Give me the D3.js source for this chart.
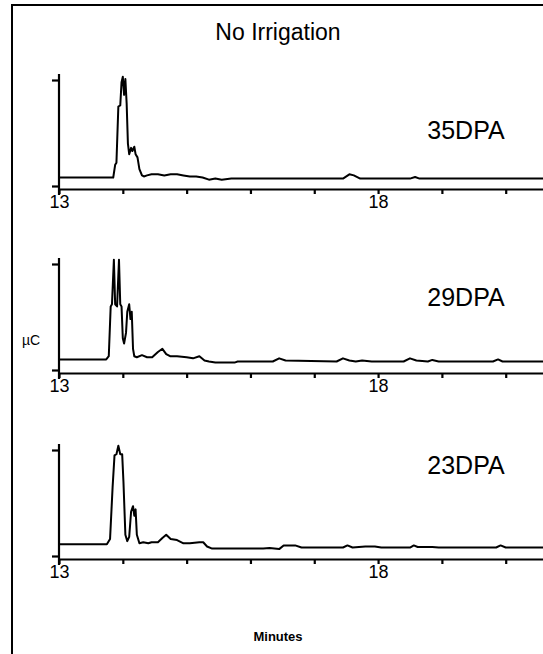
<!DOCTYPE html>
<html lang="en">
<head>
<meta charset="UTF-8" />
<title>No Irrigation chromatograms</title>
<script src="https://d3js.org/d3.v7.min.js"></script>
<style>
    body { margin: 0; background: #fff; font-family: "Liberation Sans", Arial, sans-serif; }
    svg { display: block; }
    .trace { fill: none; stroke: #000; stroke-width: 2; stroke-linejoin: round; }
    .axis path, .axis line { stroke: #000; stroke-width: 2.2; }
    .axis text { font-family: "Liberation Sans", Arial, sans-serif; fill: #000; }
</style>
</head>
<body>
<svg id="chart" width="543" height="654"></svg>
<script>
    // retention time (min) and relative detector response (0 = lower tick, 1 = upper tick)
    const t35 = [13, 13.85, 13.88, 13.9, 13.93, 13.96, 13.98, 14.0, 14.02, 14.04, 14.06, 14.08, 14.1, 14.13, 14.15, 14.18, 14.2, 14.23, 14.26, 14.3, 14.33, 14.38, 14.45, 14.55, 14.65, 14.75, 14.85, 14.95, 15.05, 15.15, 15.25, 15.35, 15.45, 15.55, 15.7, 16.0, 16.5, 17.0, 17.45, 17.55, 17.62, 17.72, 18.0, 18.5, 18.58, 18.65, 19.0, 19.5, 20.0, 20.6];
    const v35 = [0.08, 0.08, 0.2, 0.22, 0.75, 0.76, 0.98, 1.03, 0.86, 1.01, 0.78, 0.4, 0.3, 0.36, 0.33, 0.37, 0.3, 0.27, 0.16, 0.1, 0.09, 0.1, 0.11, 0.11, 0.1, 0.11, 0.11, 0.1, 0.09, 0.09, 0.08, 0.06, 0.07, 0.06, 0.07, 0.07, 0.07, 0.07, 0.07, 0.11, 0.1, 0.07, 0.07, 0.07, 0.085, 0.07, 0.07, 0.07, 0.07, 0.07];

    const t29 = [13, 13.74, 13.78, 13.81, 13.83, 13.86, 13.88, 13.91, 13.94, 13.96, 13.98, 14.0, 14.02, 14.05, 14.07, 14.1, 14.12, 14.14, 14.16, 14.18, 14.22, 14.3, 14.38, 14.46, 14.55, 14.62, 14.68, 14.74, 14.85, 15.0, 15.1, 15.2, 15.28, 15.35, 15.45, 15.75, 15.8, 16.35, 16.45, 16.55, 17.35, 17.45, 17.55, 17.65, 17.75, 17.9, 18.4, 18.5, 18.6, 18.78, 18.85, 18.95, 19.8, 19.88, 19.95, 20.6];
    const v29 = [0.1, 0.1, 0.13, 0.6, 0.62, 1.04, 0.62, 0.6, 1.04, 0.62, 0.6, 0.3, 0.25, 0.35, 0.55, 0.62, 0.48, 0.55, 0.2, 0.13, 0.12, 0.14, 0.12, 0.12, 0.17, 0.2, 0.15, 0.13, 0.13, 0.12, 0.11, 0.13, 0.09, 0.08, 0.07, 0.07, 0.08, 0.08, 0.11, 0.09, 0.08, 0.11, 0.09, 0.08, 0.09, 0.08, 0.08, 0.11, 0.09, 0.08, 0.095, 0.08, 0.08, 0.1, 0.08, 0.08];

    const t23 = [13, 13.75, 13.8, 13.84, 13.87, 13.9, 13.93, 13.96, 13.99, 14.01, 14.04, 14.07, 14.1, 14.13, 14.16, 14.18, 14.2, 14.22, 14.26, 14.32, 14.4, 14.45, 14.55, 14.62, 14.68, 14.75, 14.85, 14.95, 15.05, 15.2, 15.26, 15.32, 15.4, 15.5, 16.2, 16.3, 16.45, 16.52, 16.7, 16.8, 17.45, 17.52, 17.6, 17.8, 17.95, 18.05, 18.5, 18.56, 18.62, 18.85, 18.95, 19.85, 19.92, 20.0, 20.6];
    const v23 = [0.11, 0.11, 0.16, 0.65, 0.95, 0.96, 1.04, 0.96, 0.96, 0.7, 0.2, 0.14, 0.18, 0.42, 0.47, 0.38, 0.44, 0.2, 0.12, 0.13, 0.12, 0.13, 0.13, 0.17, 0.2, 0.16, 0.15, 0.12, 0.12, 0.13, 0.13, 0.09, 0.07, 0.07, 0.07, 0.075, 0.065, 0.1, 0.1, 0.08, 0.08, 0.1, 0.08, 0.09, 0.09, 0.08, 0.08, 0.1, 0.085, 0.085, 0.08, 0.08, 0.1, 0.08, 0.08];

    const panelNames = ["35DPA", "29DPA", "23DPA"];
    const panelTimes = [t35, t29, t23];
    const panelValues = [v35, v29, v23];
    const minuteTicks = [13, 14, 15, 16, 17, 18, 19, 20];
    const labelledTicks = [13, 18];

    const svg = d3.select("#chart");

    // outer frame (top and left edges)
    svg.append("path")
        .attr("d", "M12,654 V5 H543")
        .attr("fill", "none")
        .attr("stroke", "#000")
        .attr("stroke-width", 2);

    svg.append("text")
        .attr("x", 278)
        .attr("y", 40)
        .attr("text-anchor", "middle")
        .attr("font-size", 23)
        .text("No Irrigation");

    const x = d3.scaleLinear().domain([13, 20.6]).range([59, 544]);

    const panelTops = [80, 264, 450];

    panelNames.forEach((name, i) => {
        const top = panelTops[i];
        const y = d3.scaleLinear().domain([0, 1]).range([top + 106, top]);
        const g = svg.append("g");

        // x axis
        const xAxis = d3.axisBottom(x)
            .tickValues(minuteTicks)
            .tickSize(5)
            .tickSizeOuter(0)
            .tickPadding(1)
            .tickFormat(d => labelledTicks.includes(d) ? d : "");
        const xg = g.append("g")
            .attr("class", "axis")
            .attr("transform", `translate(0,${top + 109})`)
            .call(xAxis);
        xg.selectAll("text").attr("font-size", 18);
        xg.selectAll(".tick line").attr("stroke-width", 1.5);

        // y axis, only two unlabelled ticks
        const yAxis = d3.axisLeft(y)
            .tickValues([0, 1])
            .tickSize(7)
            .tickSizeOuter(0)
            .tickFormat("");
        const yg = g.append("g")
            .attr("class", "axis")
            .attr("transform", `translate(${x(13)},0)`)
            .call(yAxis);
        yg.select(".domain").attr("d", `M0,${top - 6}V${top + 115}`);
        yg.selectAll(".tick line").attr("stroke-width", 1.5);

        // trace
        const pts = panelTimes[i].map((t, k) => [t, panelValues[i][k]]);
        g.append("path")
            .datum(pts)
            .attr("class", "trace")
            .attr("d", d3.line().x(d => x(d[0])).y(d => y(d[1])));

        g.append("text")
            .attr("x", 466)
            .attr("y", top + [59, 42, 24][i])
            .attr("text-anchor", "middle")
            .attr("font-size", 25)
            .text(name);
    });

    svg.append("text")
        .attr("x", 31)
        .attr("y", 345)
        .attr("text-anchor", "middle")
        .attr("font-size", 14)
        .text("µC");

    svg.append("text")
        .attr("x", 278)
        .attr("y", 641)
        .attr("text-anchor", "middle")
        .attr("font-size", 13)
        .attr("font-weight", "bold")
        .text("Minutes");
</script>
</body>
</html>
